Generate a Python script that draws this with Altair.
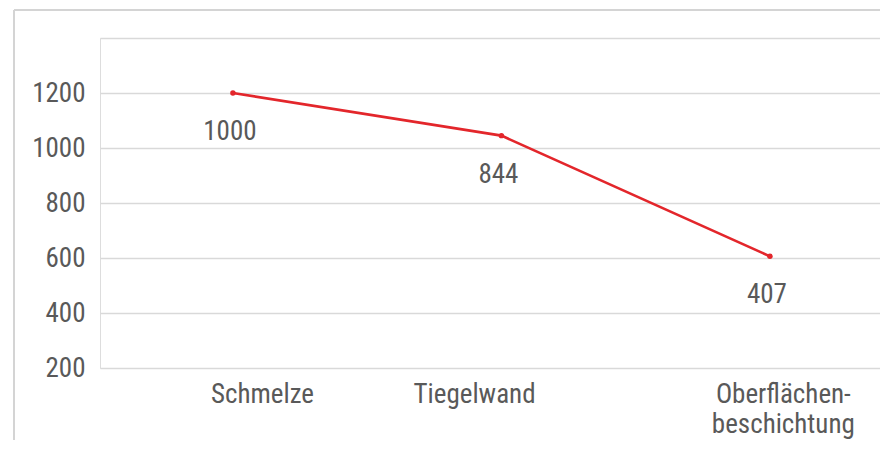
import altair as alt
import pandas as pd

# Data
categories = ["Schmelze", "Tiegelwand", "Oberflächen-\nbeschichtung"]
cat_index = [0, 1, 2]
plotted_values = [1200, 1045, 606]
label_values = ["1000", "844", "407"]
cat_label_pos = [0.11, 0.90, 2.05]
y_ticks = [200, 400, 600, 800, 1000, 1200, 1400]

FONT = "Liberation Sans Narrow, Roboto Condensed, DejaVu Sans Condensed, sans-serif"
TXT = "#595959"
RED = "#e3262b"
GRID = "#d9d9d9"

df = pd.DataFrame({
    "idx": cat_index,
    "val": plotted_values,
    "lab": label_values,
    "cat": categories,
    "catpos": cat_label_pos,
})

W, H = 780, 330
xs = alt.Scale(domain=[-0.495, 2.41], nice=False, zero=False)
ys = alt.Scale(domain=[200, 1400], nice=False, zero=False)

base = alt.Chart(df)

frame_top = base.mark_rule(color="#d4d4d4", strokeWidth=2).encode(
    x=alt.value(-86), x2=alt.value(W), y=alt.value(-28)
)
frame_left = base.mark_rule(color="#d4d4d4", strokeWidth=2).encode(
    x=alt.value(-86), y=alt.value(-28), y2=alt.value(H + 75)
)

line = base.mark_line(color=RED, strokeWidth=2.6).encode(
    x=alt.X("idx:Q", scale=xs, axis=None),
    y=alt.Y("val:Q", scale=ys, axis=alt.Axis(
        values=y_ticks, grid=True, gridColor=GRID, gridWidth=1.3,
        domain=False, ticks=False, labelPadding=15, format="d",
        labelFont=FONT, labelFontSize=27, labelColor=TXT,
        labelExpr="datum.value == 1400 ? '' : datum.label",
        title=None)),
)
pts = base.mark_circle(color=RED, size=30, opacity=1).encode(
    x=alt.X("idx:Q", scale=xs, axis=None), y=alt.Y("val:Q", scale=ys)
)
vlabels = base.mark_text(font=FONT, fontSize=27, color=TXT, baseline="alphabetic",
                         dy=47, dx=-3, align="center").encode(
    x=alt.X("idx:Q", scale=xs, axis=None), y=alt.Y("val:Q", scale=ys), text="lab:N"
)
clabels = base.mark_text(font=FONT, fontSize=27, color=TXT, baseline="alphabetic",
                         align="center", lineBreak="\n", lineHeight=30).encode(
    x=alt.X("catpos:Q", scale=xs, axis=None), y=alt.value(H + 35), text="cat:N"
)

chart = alt.layer(frame_top, frame_left, line, pts, vlabels, clabels).properties(
    width=W, height=H,
    autosize=alt.AutoSizeParams(type="none"),
    padding={"left": 92, "top": 30, "right": 0, "bottom": 72},
).configure_view(stroke=None).configure(background="white")

chart.save("out.html", embed_options={"renderer": "svg", "actions": False})
